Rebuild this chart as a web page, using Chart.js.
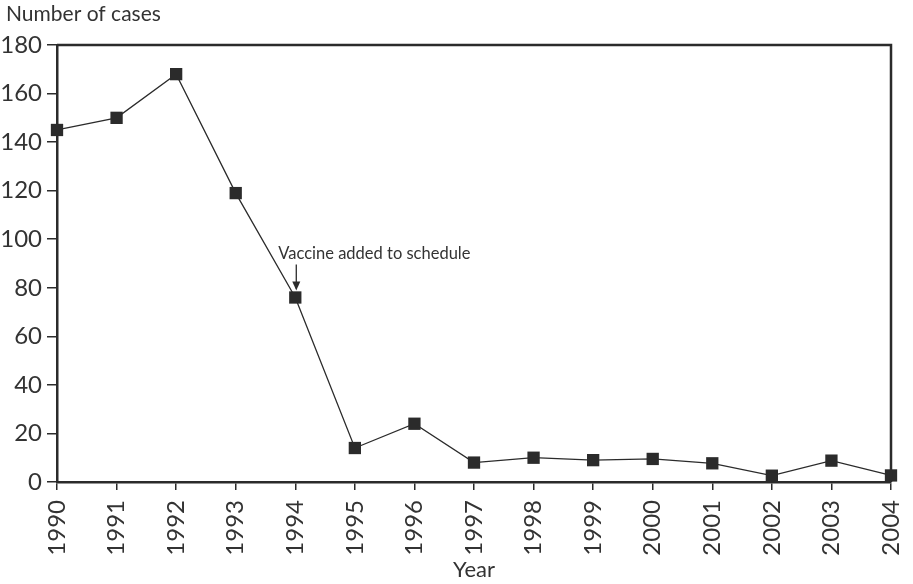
<!DOCTYPE html>
<html>
<head>
<meta charset="utf-8">
<script src="https://cdn.jsdelivr.net/npm/chart.js@4/dist/chart.umd.min.js"></script>
<style>
  html, body { margin: 0; padding: 0; background: #fff; }
  #wrap { width: 913px; height: 584px; }
</style>
</head>
<body>
<div id="wrap"><canvas id="c" width="913" height="584"></canvas></div>
<script>
const years = ['1990','1991','1992','1993','1994','1995','1996','1997','1998','1999','2000','2001','2002','2003','2004'];
const cases = [145, 150, 168, 119, 76, 14, 24, 8, 10, 9, 9.5, 7.7, 2.6, 8.8, 2.7];
const yMin = 0, yMax = 180, yStep = 20;
const yTitle = 'Number of cases';
const xTitle = 'Year';
const noteText = 'Vaccine added to schedule';
const noteIndex = 4;

const INK = '#2b2b2b';
const FONT = 'Lato, "DejaVu Sans", sans-serif';

const framePlugin = {
  id: 'frame',
  afterDraw(chart) {
    const { ctx, chartArea: a } = chart;
    ctx.save();
    ctx.strokeStyle = INK;
    ctx.lineWidth = 2.5;
    ctx.beginPath();
    ctx.moveTo(a.left, a.top);
    ctx.lineTo(a.right, a.top);
    ctx.lineTo(a.right, a.bottom);
    ctx.stroke();
    ctx.fillStyle = '#333';
    ctx.font = '21px ' + FONT;
    ctx.textAlign = 'left';
    ctx.textBaseline = 'alphabetic';
    ctx.fillText(yTitle, 6, 21);
    ctx.restore();
  },
  afterDatasetsDraw(chart) {
    const { ctx } = chart;
    const pt = chart.getDatasetMeta(0).data[noteIndex];
    if (!pt) return;
    const x = pt.x, y = pt.y;
    ctx.save();
    ctx.fillStyle = '#333';
    ctx.font = '16.5px ' + FONT;
    ctx.textAlign = 'left';
    ctx.textBaseline = 'alphabetic';
    ctx.fillText(noteText, x - 17, y - 38);
    ctx.strokeStyle = INK;
    ctx.lineWidth = 1.3;
    ctx.beginPath();
    ctx.moveTo(x + 1, y - 33);
    ctx.lineTo(x + 1, y - 9);
    ctx.stroke();
    ctx.fillStyle = INK;
    ctx.beginPath();
    ctx.moveTo(x - 3, y - 16);
    ctx.lineTo(x + 1, y - 7);
    ctx.lineTo(x + 5, y - 16);
    ctx.closePath();
    ctx.fill();
    ctx.restore();
  }
};

new Chart(document.getElementById('c'), {
  type: 'line',
  data: {
    labels: years,
    datasets: [{
      data: cases,
      borderColor: INK,
      borderWidth: 1.3,
      backgroundColor: INK,
      pointStyle: 'rect',
      pointRadius: 8.7,
      pointHoverRadius: 8.7,
      pointBorderWidth: 0,
      pointBackgroundColor: INK,
      tension: 0,
      clip: false
    }]
  },
  options: {
    responsive: false,
    animation: false,
    devicePixelRatio: 1,
    layout: { padding: { left: 0, right: 22, top: 45, bottom: 0 } },
    plugins: { legend: { display: false }, tooltip: { enabled: false }, title: { display: false } },
    scales: {
      x: {
        type: 'category',
        offset: false,
        afterFit(s) { s.height = 102; s.paddingLeft = 0; s.paddingRight = 0; },
        border: { display: true, color: INK, width: 2.5 },
        grid: { drawOnChartArea: false, drawTicks: true, tickLength: 8, color: INK, lineWidth: 1.5 },
        ticks: { color: '#333', font: { family: FONT, size: 24 }, minRotation: 90, maxRotation: 90, padding: 10, autoSkip: false },
        title: { display: true, text: xTitle, color: '#333', font: { family: FONT, size: 22 }, padding: { top: 0, bottom: 1 } }
      },
      y: {
        min: yMin, max: yMax,
        afterFit(s) { s.width = 57; s.paddingTop = 0; s.paddingBottom = 0; },
        border: { display: true, color: INK, width: 2.5 },
        grid: { drawOnChartArea: false, drawTicks: true, tickLength: 10, color: INK, lineWidth: 1.5 },
        ticks: { stepSize: yStep, color: '#333', font: { family: FONT, size: 24 }, padding: 5 }
      }
    }
  },
  plugins: [framePlugin]
});
</script>
</body>
</html>
